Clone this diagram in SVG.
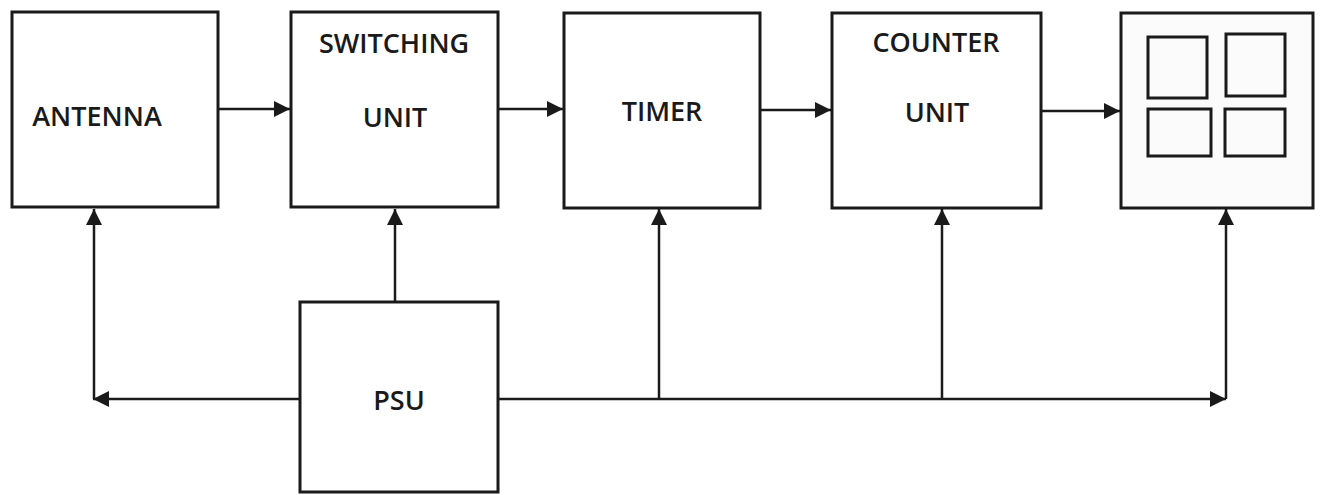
<svg xmlns="http://www.w3.org/2000/svg" width="1320" height="495" viewBox="0 0 1320 495">
<style>
.box{fill:#ffffff;stroke:#1a1a1a;stroke-width:3}
.inner{fill:none;stroke:#1a1a1a;stroke-width:3}
.lbl{font-family:"Open Sans","Liberation Sans",sans-serif;font-size:27px;font-weight:600;fill:#1a1a1a;text-anchor:middle}
.wire{fill:none;stroke:#1a1a1a;stroke-width:2.5}
</style>
<defs>
<marker id="ah" markerUnits="userSpaceOnUse" markerWidth="16" markerHeight="16" viewBox="0 0 16 16" refX="16" refY="8" orient="auto">
<path d="M0,0 L16,8 L0,16 Z" fill="#1a1a1a"/>
</marker>
</defs>
<rect width="1320" height="495" fill="#ffffff"/>
<g id="antenna">
<rect class="box" x="12" y="12" width="206" height="195"/>
<text class="lbl" x="97" y="126">ANTENNA</text>
</g>
<g id="switching">
<rect class="box" x="291" y="12" width="207" height="195"/>
<text class="lbl" x="394" y="53">SWITCHING</text>
<text class="lbl" x="395" y="127">UNIT</text>
</g>
<g id="timer">
<rect class="box" x="564" y="13" width="196" height="195"/>
<text class="lbl" x="662" y="121">TIMER</text>
</g>
<g id="counter">
<rect class="box" x="832" y="13" width="209" height="195"/>
<text class="lbl" x="936" y="52">COUNTER</text>
<text class="lbl" x="937" y="122">UNIT</text>
</g>
<g id="display">
<rect class="box" x="1121" y="13" width="192" height="195" style="fill:#fbfbfb"/>
<rect class="inner" x="1148" y="37" width="59" height="61"/>
<rect class="inner" x="1226" y="34" width="59" height="62"/>
<rect class="inner" x="1148" y="109" width="63" height="47"/>
<rect class="inner" x="1225" y="109" width="60" height="47"/>
</g>
<g id="psu">
<rect class="box" x="300" y="302" width="198" height="190"/>
<text class="lbl" x="399" y="410">PSU</text>
</g>
<g id="connectors">
<line class="wire" x1="218" y1="109" x2="290" y2="109" marker-end="url(#ah)"/>
<line class="wire" x1="498" y1="109" x2="563" y2="109" marker-end="url(#ah)"/>
<line class="wire" x1="760" y1="110" x2="831" y2="110" marker-end="url(#ah)"/>
<line class="wire" x1="1041" y1="111" x2="1120" y2="111" marker-end="url(#ah)"/>
<line class="wire" x1="300" y1="399" x2="93" y2="399" marker-end="url(#ah)"/>
<line class="wire" x1="94" y1="399" x2="94" y2="209" marker-end="url(#ah)"/>
<line class="wire" x1="395" y1="302" x2="395" y2="209" marker-end="url(#ah)"/>
<line class="wire" x1="498" y1="399" x2="1226" y2="399" marker-end="url(#ah)"/>
<line class="wire" x1="659" y1="399" x2="659" y2="209" marker-end="url(#ah)"/>
<line class="wire" x1="942" y1="399" x2="942" y2="209" marker-end="url(#ah)"/>
<line class="wire" x1="1226" y1="399" x2="1226" y2="209" marker-end="url(#ah)"/>
</g>
</svg>
